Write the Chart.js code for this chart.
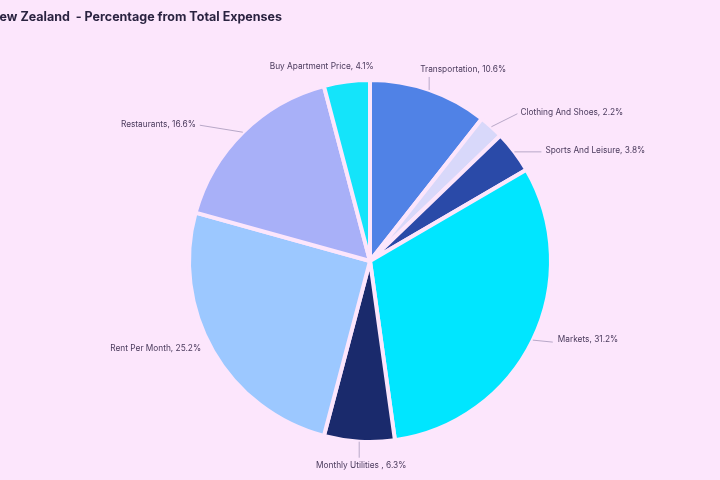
<!DOCTYPE html>
<html>
<head>
<meta charset="utf-8">
<script src="https://cdn.jsdelivr.net/npm/chart.js@4.4.0/dist/chart.umd.min.js"></script>
<style>
html,body{margin:0;padding:0;background:#fce6fc;}
#wrap{width:720px;height:480px;position:relative;}
</style>
</head>
<body>
<div id="wrap"><canvas id="c" width="720" height="480"></canvas></div>
<script>
const categories = ["Transportation","Clothing And Shoes","Sports And Leisure","Markets","Monthly Utilities ","Rent Per Month","Restaurants","Buy Apartment Price"];
const values = [10.6, 2.2, 3.8, 31.2, 6.3, 25.2, 16.6, 4.1];
const colors = ["#5082e6","#d8d8fa","#2a4aa8","#00e6ff","#1a2a6c","#9cc8ff","#a8b0f8","#14e4fa"];
const chartTitle = "New Zealand  - Percentage from Total Expenses";

const BG = "#fce6fc";

// per-label layout relative to slice edge midpoint: [textDx, textDy, align, lineEndDx, lineEndDy]
const labelLayout = [
  [-9, -20, "left", 0, -13],
  [29, -14, "left", 26, -13],
  [31, -1, "left", 27, 0],
  [25, -1, "left", 20, 2],
  [2, 24, "center", 0, 16],
  [-12, -3, "right", null, null],
  [-47, -8, "right", -43, -7],
  [-25, -15, "center", null, null]
];

const outsideLabels = {
  id: "outsideLabels",
  afterDatasetsDraw(chart) {
    const ctx = chart.ctx;
    const meta = chart.getDatasetMeta(0);
    ctx.save();
    ctx.font = "8.3px Inter, 'Noto Sans', sans-serif";
    ctx.textBaseline = "middle";
    meta.data.forEach((arc, i) => {
      const p = arc.getProps(["x","y","startAngle","endAngle","outerRadius"], true);
      const mid = (p.startAngle + p.endAngle) / 2;
      const ex = p.x + Math.cos(mid) * p.outerRadius;
      const ey = p.y + Math.sin(mid) * p.outerRadius;
      const L = labelLayout[i];
      if (L[3] !== null) {
        ctx.strokeStyle = "#b8a8c8";
        ctx.lineWidth = 1;
        ctx.beginPath();
        ctx.moveTo(ex, ey);
        ctx.lineTo(ex + L[3], ey + L[4]);
        ctx.stroke();
      }
      ctx.fillStyle = "#4a3a5c";
      ctx.textAlign = L[2];
      ctx.fillText(categories[i] + ", " + values[i].toFixed(1) + "%", ex + L[0], ey + L[1]);
    });
    ctx.restore();
  }
};

const titlePlugin = {
  id: "customTitle",
  beforeDraw(chart) {
    const ctx = chart.ctx;
    ctx.save();
    ctx.fillStyle = BG;
    ctx.fillRect(0, 0, chart.width, chart.height);
    ctx.font = "bold 12.5px Inter, 'Noto Sans', sans-serif";
    ctx.fillStyle = "#2a2340";
    ctx.textBaseline = "middle";
    ctx.textAlign = "left";
    ctx.fillText(chartTitle, -10, 17);
    ctx.restore();
  }
};

new Chart(document.getElementById("c"), {
  type: "pie",
  data: {
    labels: categories,
    datasets: [{
      data: values,
      backgroundColor: colors,
      borderColor: BG,
      borderWidth: 4,
      hoverOffset: 0
    }]
  },
  options: {
    responsive: false,
    animation: false,
    layout: { padding: { top: 78, bottom: 36, left: 187, right: 167 } },
    plugins: {
      legend: { display: false },
      title: { display: false },
      tooltip: { enabled: false }
    }
  },
  plugins: [titlePlugin, outsideLabels]
});
</script>
</body>
</html>
